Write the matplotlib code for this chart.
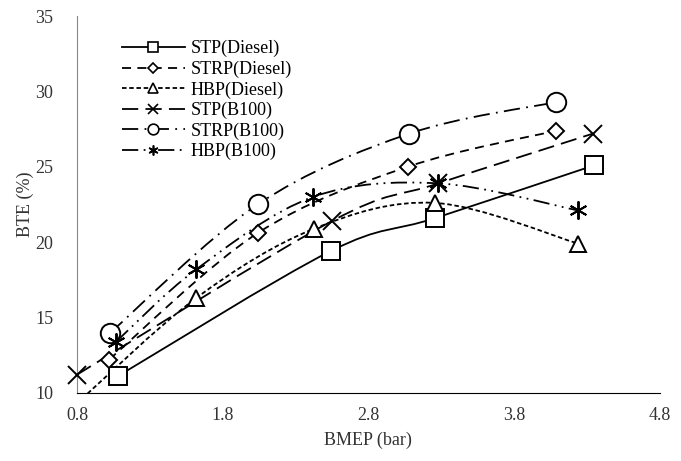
import matplotlib
matplotlib.use("Agg")
import matplotlib.pyplot as plt
from matplotlib.path import Path
from matplotlib.patches import PathPatch
from matplotlib.lines import Line2D

plt.rcParams['font.family'] = ['Liberation Serif', 'DejaVu Serif']

# data
stp_d_x = [1.08, 2.54, 3.26, 4.35]
stp_d_y = [11.1, 19.4, 21.6, 25.1]
strp_d_x = [1.02, 2.04, 3.07, 4.09]
strp_d_y = [12.2, 20.6, 25.0, 27.4]
hbp_d_x = [0.80, 1.62, 2.43, 3.26, 4.24]
hbp_d_y = [9.3, 16.3, 20.9, 22.6, 19.9]
stp_b_x = [0.80, 2.55, 3.28, 4.34]
stp_b_y = [11.2, 21.4, 23.9, 27.2]
strp_b_x = [1.03, 2.04, 3.08, 4.09]
strp_b_y = [14.0, 22.5, 27.2, 29.3]
hbp_b_x = [1.07, 1.62, 2.42, 3.28, 4.24]
hbp_b_y = [13.4, 18.2, 23.0, 23.9, 22.1]

labels = ['STP(Diesel)', 'STRP(Diesel)', 'HBP(Diesel)', 'STP(B100)', 'STRP(B100)', 'HBP(B100)']
xs = [stp_d_x, strp_d_x, hbp_d_x, stp_b_x, strp_b_x, hbp_b_x]
ys = [stp_d_y, strp_d_y, hbp_d_y, stp_b_y, strp_b_y, hbp_b_y]

styles = [
    dict(ls='-', marker='s', ms=13),
    dict(ls=(0, (5, 3.5)), marker='D', ms=8.5),
    dict(ls=(0, (2.5, 1.5)), marker='^', ms=12),
    dict(ls=(0, (9, 4)), marker='x', ms=13),
    dict(ls=(0, (9, 3.5, 1, 3.5)), marker='o', ms=14),
    dict(ls=(0, (9, 3, 1, 3, 1, 3)), marker=(6, 2, 0), ms=13),
]


def smooth_path(x, y):
    # excel style smoothed line: cubic bezier through every point
    pts = list(zip(x, y))
    n = len(pts)
    verts = [pts[0]]
    codes = [Path.MOVETO]
    for i in range(n - 1):
        p0 = pts[i - 1] if i > 0 else pts[i]
        p1 = pts[i]
        p2 = pts[i + 1]
        p3 = pts[i + 2] if i + 2 < n else pts[i + 1]
        c1 = (p1[0] + (p2[0] - p0[0]) / 6, p1[1] + (p2[1] - p0[1]) / 6)
        c2 = (p2[0] - (p3[0] - p1[0]) / 6, p2[1] - (p3[1] - p1[1]) / 6)
        verts += [c1, c2, p2]
        codes += [Path.CURVE4] * 3
    return Path(verts, codes)


fig = plt.figure(figsize=(6.81, 4.61), dpi=100)
ax = fig.add_axes([0.113, 0.148, 0.856, 0.817])

handles = []
for x, y, st, lab in zip(xs, ys, styles, labels):
    patch = PathPatch(smooth_path(x, y), facecolor='none', edgecolor='black',
                      lw=1.3, linestyle=st['ls'])
    ax.add_patch(patch)
    # the HBP(Diesel) first point sits below the axis and stays clipped
    ax.plot(x, y, ls='none', marker=st['marker'], ms=st['ms'], mfc='white',
            mec='black', mew=1.4, zorder=3, clip_on=(lab == 'HBP(Diesel)'))
    handles.append(Line2D([], [], color='black', lw=1.3, ls=st['ls'],
                          marker=st['marker'], ms=st['ms'] * 0.55,
                          mfc='white', mec='black', mew=1.2))

ax.set_xlim(0.8, 4.8)
ax.set_ylim(10, 35)
ax.set_xticks([0.8, 1.8, 2.8, 3.8, 4.8])
ax.set_yticks([10, 15, 20, 25, 30, 35])
ax.tick_params(length=0, labelsize=13, colors='#333333')
ax.tick_params(axis='y', pad=17)
ax.tick_params(axis='x', pad=10)
for s in ['top', 'right']:
    ax.spines[s].set_visible(False)
ax.spines['left'].set_color('#888888')
ax.spines['bottom'].set_color('black')
ax.set_xlabel('BMEP (bar)', fontsize=13, color='#333333', labelpad=6)
ax.set_ylabel('BTE (%)', fontsize=13, color='#333333', labelpad=1)

ax.legend(handles=handles, labels=labels, loc='upper left', bbox_to_anchor=(0.055, 0.97),
          frameon=False, fontsize=13, handlelength=3.5, handletextpad=0.3,
          labelspacing=0.18, borderpad=0.2)

fig.savefig('out.png', dpi=100)
